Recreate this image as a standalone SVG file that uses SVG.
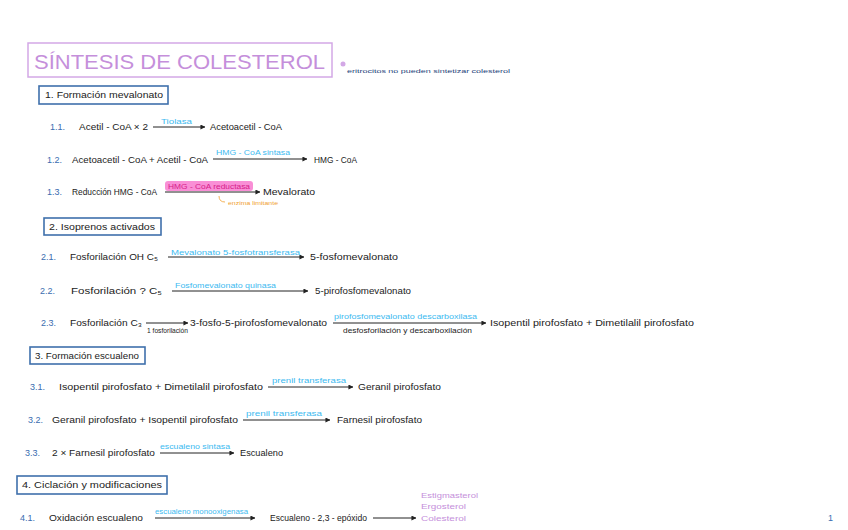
<svg xmlns="http://www.w3.org/2000/svg" width="848" height="530" viewBox="0 0 848 530">
<style>
text{font-family:"Liberation Sans",Arial,sans-serif;font-size:9px;fill:#222}
.n{fill:#3a6cb0}
.e{fill:#3cbaf0;font-size:8px}
.sec{fill:#fff;stroke:#3f70ac;stroke-width:1.6}
.c{stroke:#222;stroke-width:1;fill:none}
.p{fill:#c58fdb}
</style>
<defs>
<marker id="ah" viewBox="0 0 6 6" refX="5.5" refY="3" markerWidth="5" markerHeight="5" orient="auto" markerUnits="userSpaceOnUse">
<path d="M0,0 L6,3 L0,6 z" fill="#222"/>
</marker>
</defs>
<rect width="848" height="530" fill="#fff"/>

<g id="title">
<rect x="28" y="43" width="304" height="34" fill="none" stroke="#d3a8e6" stroke-width="1.5"/>
<text x="34" y="69" style="font-size:21px" class="p" textLength="291" lengthAdjust="spacingAndGlyphs">SÍNTESIS  DE  COLESTEROL</text>
<circle cx="343" cy="64" r="2.5" fill="#d3a8e6"/>
<text x="347" y="73" style="font-size:6px;fill:#1d3f7a" textLength="163" lengthAdjust="spacingAndGlyphs">eritrocitos no pueden sintetizar colesterol</text>
</g>

<g id="s1">
<rect class="sec" x="39" y="86" width="129" height="18"/>
<text x="45" y="98" textLength="118" lengthAdjust="spacingAndGlyphs">1. Formación mevalonato</text>
</g>
<g id="r11">
<text class="n" x="50" y="130">1.1.</text>
<text x="79" y="130" textLength="69" lengthAdjust="spacingAndGlyphs">Acetil - CoA × 2</text>
<text class="e" x="161" y="124" textLength="31" lengthAdjust="spacingAndGlyphs">Tiolasa</text>
<text x="210" y="130" textLength="72" lengthAdjust="spacingAndGlyphs">Acetoacetil - CoA</text>
</g>
<g id="r12">
<text class="n" x="47" y="163">1.2.</text>
<text x="72" y="163" textLength="136" lengthAdjust="spacingAndGlyphs">Acetoacetil - CoA + Acetil - CoA</text>
<text class="e" x="216" y="155" textLength="74" lengthAdjust="spacingAndGlyphs">HMG - CoA sintasa</text>
<text x="314" y="163" textLength="43" lengthAdjust="spacingAndGlyphs">HMG - CoA</text>
</g>
<g id="r13">
<text class="n" x="47" y="195">1.3.</text>
<text x="72" y="195" textLength="85" lengthAdjust="spacingAndGlyphs">Reducción HMG - CoA</text>
<rect x="165" y="181" width="88" height="10" rx="3" fill="#f98fd6"/>
<text x="168" y="189" style="font-size:8px;fill:#d6208a" textLength="82" lengthAdjust="spacingAndGlyphs">HMG - CoA reductasa</text>
<text x="263" y="195" textLength="52" lengthAdjust="spacingAndGlyphs">Mevalorato</text>
<path d="M219,196 Q219,202 225,202" fill="none" stroke="#f0a030" stroke-width="0.8"/>
<text x="228" y="205" style="font-size:5px;fill:#f0a030" textLength="50" lengthAdjust="spacingAndGlyphs">enzima limitante</text>
</g>

<g id="s2">
<rect class="sec" x="44" y="218" width="117" height="17"/>
<text x="49" y="230" textLength="106" lengthAdjust="spacingAndGlyphs">2. Isoprenos activados</text>
</g>
<g id="r21">
<text class="n" x="41" y="260">2.1.</text>
<text x="70" y="260" textLength="88" lengthAdjust="spacingAndGlyphs">Fosforilación OH C₅</text>
<text class="e" x="171" y="255" textLength="129" lengthAdjust="spacingAndGlyphs">Mevalonato 5-fosfotransferasa</text>
<text x="310" y="260" textLength="88" lengthAdjust="spacingAndGlyphs">5-fosfomevalonato</text>
</g>
<g id="r22">
<text class="n" x="40" y="294">2.2.</text>
<text x="71" y="294" textLength="91" lengthAdjust="spacingAndGlyphs">Fosforilación ?  C₅</text>
<text class="e" x="175" y="288" textLength="101" lengthAdjust="spacingAndGlyphs">Fosfomevalonato quinasa</text>
<text x="315" y="294" textLength="96" lengthAdjust="spacingAndGlyphs">5-pirofosfomevalonato</text>
</g>
<g id="r23">
<text class="n" x="41" y="326">2.3.</text>
<text x="70" y="326" textLength="72" lengthAdjust="spacingAndGlyphs">Fosforilación C₃</text>
<text x="147" y="333" style="font-size:7px" textLength="41" lengthAdjust="spacingAndGlyphs">1 fosforilación</text>
<text x="190" y="326" textLength="137" lengthAdjust="spacingAndGlyphs">3-fosfo-5-pirofosfomevalonato</text>
<text class="e" x="334" y="319" textLength="143" lengthAdjust="spacingAndGlyphs">pirofosfomevalonato descarboxilasa</text>
<text x="343" y="333" style="font-size:8px" textLength="129" lengthAdjust="spacingAndGlyphs">desfosforilación y descarboxilación</text>
<text x="490" y="326" textLength="204" lengthAdjust="spacingAndGlyphs">Isopentil pirofosfato + Dimetilalil pirofosfato</text>
</g>

<g id="s3">
<rect class="sec" x="30" y="347" width="115" height="17"/>
<text x="35" y="359" textLength="104" lengthAdjust="spacingAndGlyphs">3. Formación escualeno</text>
</g>
<g id="r31">
<text class="n" x="30" y="390">3.1.</text>
<text x="59" y="390" textLength="204" lengthAdjust="spacingAndGlyphs">Isopentil pirofosfato + Dimetilalil pirofosfato</text>
<text class="e" x="272" y="383" textLength="74" lengthAdjust="spacingAndGlyphs">prenil transferasa</text>
<text x="358" y="390" textLength="83" lengthAdjust="spacingAndGlyphs">Geranil pirofosfato</text>
</g>
<g id="r32">
<text class="n" x="28" y="423">3.2.</text>
<text x="52" y="423" textLength="186" lengthAdjust="spacingAndGlyphs">Geranil pirofosfato + Isopentil pirofosfato</text>
<text class="e" x="246" y="416" textLength="76" lengthAdjust="spacingAndGlyphs">prenil transferasa</text>
<text x="337" y="423" textLength="85" lengthAdjust="spacingAndGlyphs">Farnesil pirofosfato</text>
</g>
<g id="r33">
<text class="n" x="25" y="456">3.3.</text>
<text x="52" y="456" textLength="103" lengthAdjust="spacingAndGlyphs">2 × Farnesil pirofosfato</text>
<text class="e" x="160" y="449" textLength="70" lengthAdjust="spacingAndGlyphs">escualeno sintasa</text>
<text x="240" y="456" textLength="43" lengthAdjust="spacingAndGlyphs">Escualeno</text>
</g>

<g id="s4">
<rect class="sec" x="17" y="476" width="150" height="18"/>
<text x="22" y="488" textLength="140" lengthAdjust="spacingAndGlyphs">4. Ciclación y modificaciones</text>
</g>
<g id="r41">
<text class="n" x="20" y="521">4.1.</text>
<text x="49" y="521" textLength="94" lengthAdjust="spacingAndGlyphs">Oxidación escualeno</text>
<text class="e" x="155" y="514" textLength="93" lengthAdjust="spacingAndGlyphs">escualeno monooxigenasa</text>
<text x="270" y="521" textLength="97" lengthAdjust="spacingAndGlyphs">Escualeno - 2,3 - epóxido</text>
<text class="p" x="421" y="498" style="font-size:8px" textLength="57" lengthAdjust="spacingAndGlyphs">Estigmasterol</text>
<text class="p" x="421" y="509" style="font-size:8px" textLength="45" lengthAdjust="spacingAndGlyphs">Ergosterol</text>
<text class="p" x="421" y="521" style="font-size:8px" textLength="45" lengthAdjust="spacingAndGlyphs">Colesterol</text>
</g>
<g id="page">
<text class="n" x="828" y="521">1</text>
</g>

<g id="connectors" class="c">
<line x1="153" y1="127" x2="205" y2="127" marker-end="url(#ah)"/>
<line x1="213" y1="159" x2="307" y2="159" marker-end="url(#ah)"/>
<line x1="165" y1="192" x2="260" y2="192" marker-end="url(#ah)"/>
<line x1="168" y1="257" x2="304" y2="257" marker-end="url(#ah)"/>
<line x1="172" y1="291" x2="308" y2="291" marker-end="url(#ah)"/>
<line x1="146" y1="323" x2="188" y2="323" marker-end="url(#ah)"/>
<line x1="333" y1="323" x2="486" y2="323" marker-end="url(#ah)"/>
<line x1="268" y1="387" x2="353" y2="387" marker-end="url(#ah)"/>
<line x1="243" y1="420" x2="330" y2="420" marker-end="url(#ah)"/>
<line x1="160" y1="453" x2="234" y2="453" marker-end="url(#ah)"/>
<line x1="155" y1="518" x2="255" y2="518" marker-end="url(#ah)"/>
<line x1="373" y1="518" x2="416" y2="518" marker-end="url(#ah)"/>
</g>
</svg>
